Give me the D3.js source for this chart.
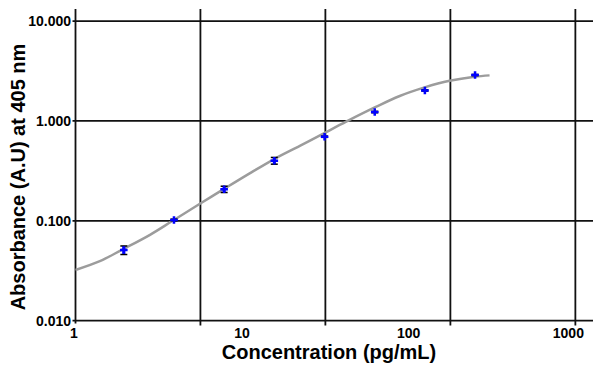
<!DOCTYPE html>
<meta charset="utf-8">
<style>
  body { margin: 0; background: #fff; }
  text { font-family: "Liberation Sans", Arial, sans-serif; font-weight: bold; fill: #000; }
</style>
<body>
<script src="https://cdn.jsdelivr.net/npm/d3@7"></script>
<script>

// Standard curve points (pg/mL -> absorbance), with error (+/-)
var conc = [1.95, 3.9, 7.8, 15.6, 31.25, 62.5, 125, 250];
var absorb = [0.051, 0.102, 0.207, 0.40, 0.695, 1.227, 2.02, 2.88];
var errs = [0.005, 0.002, 0.015, 0.031, 0.01, 0.02, 0.03, 0.04];

// Fitted curve
var fitConc = [1.0, 1.40, 1.90, 2.80, 3.79, 5.58, 7.66, 11.1, 15.5, 22.2, 30.1, 42.4, 63.4, 88.3, 124.6, 175.8, 248.4, 305.5];
var fitAbs = [0.0322, 0.0394, 0.0513, 0.0724, 0.0989, 0.148, 0.205, 0.2985, 0.413, 0.562, 0.733, 0.989, 1.38, 1.778, 2.168, 2.523, 2.773, 2.858];

// Axis labels and grid positions
var xLabels = [1, 10, 100, 1000];
var xGrid = [5.62, 31.6, 177.8, 1000];
var yTicks = [0.01, 0.1, 1, 10];

var width = 600, height = 372;

var svg = d3.select("body").append("svg")
    .attr("width", width)
    .attr("height", height);

var x = d3.scaleLog().domain([1, 1276]).range([75.5, 593]),
    y = d3.scaleLog().domain([0.01, 13.2]).range([320.7, 9]);

// horizontal grid lines
svg.append("g").selectAll("line")
  .data(yTicks)
  .enter().append("line")
    .attr("x1", 72.5)
    .attr("x2", 593)
    .attr("y1", d => y(d))
    .attr("y2", d => y(d))
    .attr("stroke", "#111")
    .attr("stroke-width", 1.8);

// vertical grid lines (plus left axis)
svg.append("g").selectAll("line")
  .data([1].concat(xGrid))
  .enter().append("line")
    .attr("x1", d => x(d))
    .attr("x2", d => x(d))
    .attr("y1", 9)
    .attr("y2", d => d == 1 ? 323.5 : 325.5)
    .attr("stroke", "#111")
    .attr("stroke-width", 1.8);

// y tick labels
svg.append("g").selectAll("text")
  .data(yTicks)
  .enter().append("text")
    .attr("x", 71)
    .attr("y", d => y(d) + 5)
    .attr("text-anchor", "end")
    .style("font-size", "14px")
    .text(d => d3.format(".3f")(d));

// x tick labels
svg.append("g").selectAll("text")
  .data(xLabels)
  .enter().append("text")
    .attr("x", d => x(d) - (d == 1000 ? 7 : 0) - (d == 1 ? 1.5 : 0))
    .attr("y", 338)
    .attr("text-anchor", "middle")
    .style("font-size", "14px")
    .text(d => d);

// axis titles
svg.append("text")
    .attr("x", 329)
    .attr("y", 359)
    .attr("text-anchor", "middle")
    .style("font-size", "20px")
    .text("Concentration (pg/mL)");

svg.append("text")
    .attr("transform", "translate(25,177) rotate(-90)")
    .attr("text-anchor", "middle")
    .style("font-size", "20px")
    .text("Absorbance (A.U) at 405 nm");

// fitted curve
var line = d3.line()
    .x(d => x(d[0]))
    .y(d => y(d[1]))
    .curve(d3.curveCatmullRom);

svg.append("path")
    .datum(d3.zip(fitConc, fitAbs))
    .attr("d", line)
    .attr("fill", "none")
    .attr("stroke", "#9c9c9c")
    .attr("stroke-width", 2.5);

// data points with error bars
var pts = svg.append("g").selectAll("g")
  .data(d3.range(conc.length))
  .enter().append("g");

pts.append("line")
    .attr("x1", i => x(conc[i]))
    .attr("x2", i => x(conc[i]))
    .attr("y1", i => y(absorb[i] + errs[i]))
    .attr("y2", i => y(absorb[i] - errs[i]))
    .attr("stroke", "#0000ff")
    .attr("stroke-width", 3);

pts.selectAll(".cap")
  .data(i => [[i, 1], [i, -1]])
  .enter().append("line")
    .attr("class", "cap")
    .attr("x1", d => x(conc[d[0]]) - 3.5)
    .attr("x2", d => x(conc[d[0]]) + 3.5)
    .attr("y1", d => y(absorb[d[0]] + d[1] * errs[d[0]]))
    .attr("y2", d => y(absorb[d[0]] + d[1] * errs[d[0]]))
    .attr("stroke", "#000")
    .attr("stroke-width", 1.5);

pts.append("path")
    .attr("d", d3.symbol().type(d3.symbolCross).size(32))
    .attr("transform", i => "translate(" + x(conc[i]) + "," + y(absorb[i]) + ")")
    .attr("fill", "#0000ff");

</script>
</body>
